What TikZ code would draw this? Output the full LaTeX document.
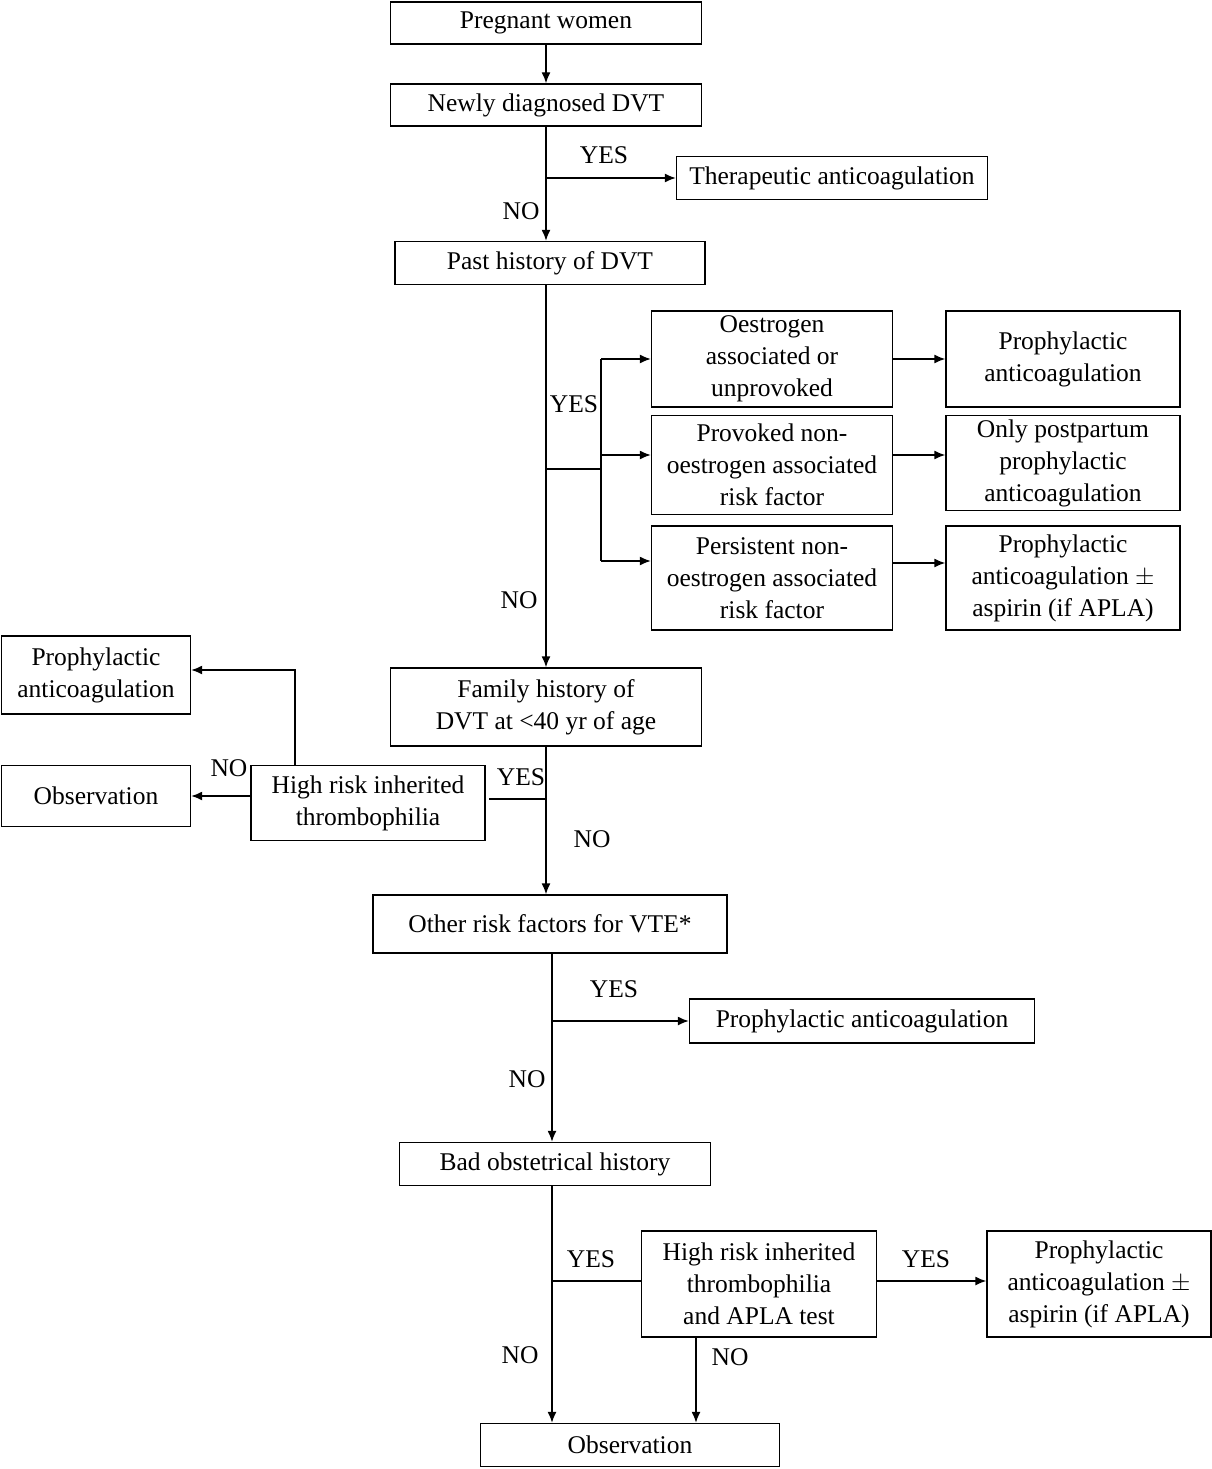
\documentclass[tikz,border=0pt]{standalone}
\usepackage{fontspec}
\setmainfont{Liberation Serif}
\usetikzlibrary{positioning,arrows.meta}
\tikzset{
  box/.style={rectangle, draw, line width=1.4pt, align=center, inner sep=0pt,
              font=\fontsize{25.5}{32}\selectfont},
  line/.style={draw, line width=1.4pt, -{Latex[length=11pt,width=9pt]}},
  plain/.style={draw, line width=1.4pt},
  lbl/.style={font=\fontsize{25.5}{28}\selectfont}
}
\begin{document}
\begin{tikzpicture}[x=1pt,y=-1pt]
  \useasboundingbox (0,0) rectangle (1212,1469);
  % main column
  \node[box, minimum width=311, minimum height=42](preg) at (546,23){Pregnant women};
  \node[box, minimum width=311, minimum height=42](newdvt) at (546,105){Newly diagnosed DVT};
  \node[box, minimum width=311, minimum height=43](thera) at (832,178){Therapeutic anticoagulation};
  \node[box, minimum width=310, minimum height=43](past) at (550,263){Past history of DVT};
  \node[box, minimum width=241, minimum height=96](oestr) at (772,359){Oestrogen\\associated or\\unprovoked};
  \node[box, minimum width=234, minimum height=96](proph1) at (1063,359){Prophylactic\\anticoagulation};
  \node[box, minimum width=241, minimum height=99](provk) at (772,465){Provoked non-\\oestrogen associated\\risk factor};
  \node[box, minimum width=234, minimum height=95](postp) at (1063,463){Only postpartum\\prophylactic\\anticoagulation};
  \node[box, minimum width=241, minimum height=104](persist) at (772,578){Persistent non-\\oestrogen associated\\risk factor};
  \node[box, minimum width=234, minimum height=104](asp1) at (1063,578){Prophylactic\\anticoagulation $\pm$\\aspirin (if APLA)};
  \node[box, minimum width=311, minimum height=78](family) at (546,707){Family history of\\DVT at <40 yr of age};
  \node[box, minimum width=189, minimum height=78](proph2) at (96,675){Prophylactic\\anticoagulation};
  \node[box, minimum width=189, minimum height=61](obs1) at (96,796){Observation};
  \node[box, minimum width=234, minimum height=75](inher) at (368,803){High risk inherited\\thrombophilia};
  \node[box, minimum width=354, minimum height=58](other) at (550,924){Other risk factors for VTE*};
  \node[box, minimum width=345, minimum height=44](proph3) at (862,1021){Prophylactic anticoagulation};
  \node[box, minimum width=311, minimum height=43](bad) at (555,1164){Bad obstetrical history};
  \node[box, minimum width=235, minimum height=106](apla) at (759,1284){High risk inherited\\thrombophilia\\and APLA test};
  \node[box, minimum width=224, minimum height=106](asp2) at (1099,1284){Prophylactic\\anticoagulation $\pm$\\aspirin (if APLA)};
  \node[box, minimum width=299, minimum height=43](obs2) at (630,1445){Observation};
  % branch points
  \coordinate (b1) at (546,178);
  \coordinate (b2) at (546,469);
  \coordinate (b3) at (601,469);
  \coordinate (b4) at (546,799);
  \coordinate (b5) at (552,1021);
  \coordinate (b6) at (552,1281);
  % connectors
  \path[line] (preg) -- (newdvt);
  \path[line] (newdvt.south) -- (newdvt.south |- past.north);
  \path[line] (b1) -- (thera.west);
  \path[line] (past.south -| b2) -- (family.north -| b2);
  \path[plain] (b2) -- (b3);
  \path[plain] (b3 |- oestr) -- (b3 |- 0,561);
  \path[line] (b3 |- oestr) -- (oestr.west);
  \path[line] (b3 |- 0,455) -- (provk.west |- 0,455);
  \path[line] (b3 |- 0,561) -- (persist.west |- 0,561);
  \path[line] (oestr) -- (proph1);
  \path[line] (893,455) -- (postp.west |- 0,455);
  \path[line] (persist.east |- 0,563) -- (asp1.west |- 0,563);
  \path[line] (family.south -| b4) -- (other.north -| b4);
  \path[plain] (b4) -- (489,799);
  \path[line] (inher.west |- obs1) -- (obs1.east);
  \path[line] (inher.north -| 295,0) |- (proph2.east |- 0,670);
  \path[line] (other.south -| b5) -- (bad.north -| b5);
  \path[line] (b5) -- (proph3.west);
  \path[line] (bad.south -| b6) -- (obs2.north -| b6);
  \path[plain] (b6) -- (apla.west |- b6);
  \path[line] (apla.east |- b6) -- (asp2.west |- b6);
  \path[line] (apla.south -| 696,0) -- (obs2.north -| 696,0);
  % labels
  \node[lbl] at (604,155){YES};
  \node[lbl] at (521,211){NO};
  \node[lbl] at (574,404){YES};
  \node[lbl] at (519,600){NO};
  \node[lbl] at (521,777){YES};
  \node[lbl] at (592,839){NO};
  \node[lbl] at (229,768){NO};
  \node[lbl] at (614,989){YES};
  \node[lbl] at (527,1079){NO};
  \node[lbl] at (591,1259){YES};
  \node[lbl] at (520,1355){NO};
  \node[lbl] at (926,1259){YES};
  \node[lbl] at (730,1357){NO};
\end{tikzpicture}
\end{document}
